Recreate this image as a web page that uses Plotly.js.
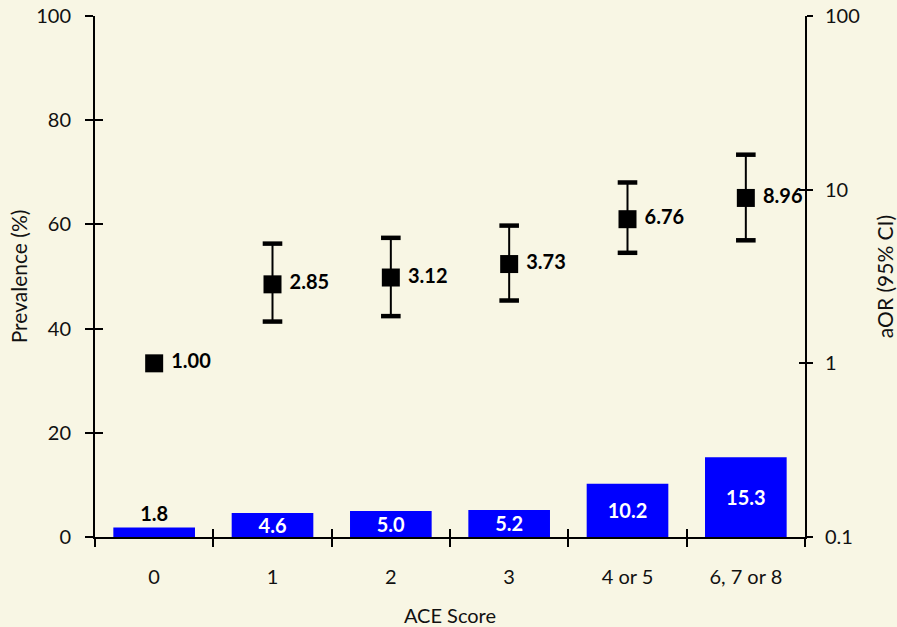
<!DOCTYPE html>
<html><head><meta charset="utf-8">
<script src="https://cdn.plot.ly/plotly-3.0.1.min.js"></script>
<style>html,body{margin:0;padding:0;background:#F8F6E4}#chart{width:897px;height:627px}</style>
</head><body><div id="chart"></div>
<script>
const categories = ['0', '1', '2', '3', '4 or 5', '6, 7 or 8'];
const prevalence = [1.8, 4.6, 5.0, 5.2, 10.2, 15.3];
const prevalenceLabels = ['1.8', '4.6', '5.0', '5.2', '10.2', '15.3'];
const aor = [1.00, 2.85, 3.12, 3.73, 6.76, 8.96];
const aorLabels = ['1.00', '2.85', '3.12', '3.73', '6.76', '8.96'];
const ciLower = [null, 1.74, 1.87, 2.30, 4.33, 5.11];
const ciUpper = [null, 4.89, 5.28, 6.21, 11.0, 15.9];
const leftTicks = [0, 20, 40, 60, 80, 100];
const rightTicks = [0.1, 1, 10, 100];
const rightTickText = ['0.1', '1', '10', '100'];

const FONT = 'Lato, "Open Sans", "DejaVu Sans", sans-serif';
const BG = '#F8F6E4';
const FS = 20;

const errPlus = aor.map((v, i) => ciUpper[i] == null ? 0 : ciUpper[i] - v);
const errMinus = aor.map((v, i) => ciLower[i] == null ? 0 : v - ciLower[i]);
const capX = [], capY = [];
categories.forEach((c, i) => {
  if (ciLower[i] != null) { capX.push(c); capY.push(ciLower[i]); }
  if (ciUpper[i] != null) { capX.push(c); capY.push(ciUpper[i]); }
});

const traces = [
  {
    type: 'bar', x: categories, y: prevalence, xaxis: 'x', yaxis: 'y',
    marker: {color: '#0000FF', line: {width: 0}},
    text: prevalenceLabels,
    textposition: prevalence.map(v => v < 3 ? 'outside' : 'inside'),
    insidetextanchor: 'middle',
    constraintext: 'none',
    cliponaxis: false,
    insidetextfont: {family: FONT, size: FS, color: '#FFFFFF', weight: 'bold'},
    outsidetextfont: {family: FONT, size: FS, color: '#000000', weight: 'bold'},
    hoverinfo: 'skip'
  },
  {
    type: 'scatter', mode: 'markers', x: capX, y: capY, xaxis: 'x', yaxis: 'y2',
    marker: {symbol: 'line-ew', size: 14, color: '#000', line: {width: 4.5, color: '#000'}},
    hoverinfo: 'skip', cliponaxis: false
  },
  {
    type: 'scatter', mode: 'markers+text', x: categories, y: aor, xaxis: 'x', yaxis: 'y2',
    text: aorLabels.map(t => ' ' + t), textposition: 'middle right',
    textfont: {family: FONT, size: FS, color: '#000', weight: 'bold'},
    marker: {symbol: 'square', size: 18, color: '#000'},
    error_y: {type: 'data', symmetric: false, array: errPlus, arrayminus: errMinus,
              thickness: 2, width: 0, color: '#000'},
    cliponaxis: false, hoverinfo: 'skip'
  },
  {type: 'scatter', mode: 'markers', x: categories, y: categories.map(() => null), xaxis: 'x2', yaxis: 'y3', hoverinfo: 'skip', showlegend: false},
  {type: 'scatter', mode: 'markers', x: categories, y: categories.map(() => null), xaxis: 'x', yaxis: 'y4', hoverinfo: 'skip', showlegend: false}
];

const tf = {family: FONT, size: FS, color: '#111'};
const titleFont = {family: FONT, size: 21, color: '#111'};

const layout = {
  width: 897, height: 627,
  paper_bgcolor: BG, plot_bgcolor: BG,
  margin: {l: 95, r: 92, t: 16, b: 90},
  showlegend: false,
  font: tf,
  bargap: 0.31,
  xaxis: {
    type: 'category', categoryarray: categories, range: [-0.5, 5.5],
    tickson: 'boundaries', ticks: 'outside', ticklen: 8, tickwidth: 2, tickcolor: '#000',
    showline: true, linecolor: '#000', linewidth: 2, showgrid: false, zeroline: false,
    ticklabelstandoff: 21, tickfont: tf,
    title: {text: 'ACE Score', font: tf, standoff: 22}
  },
  xaxis2: {
    type: 'category', categoryarray: categories, range: [-0.5, 5.5], overlaying: 'x', side: 'bottom',
    tickson: 'boundaries', ticks: 'inside', ticklen: 8, tickwidth: 2, tickcolor: '#000',
    showticklabels: false, showline: false, showgrid: false, zeroline: false
  },
  yaxis: {
    range: [0, 100], tickvals: leftTicks, ticks: 'outside', ticklen: 8, tickwidth: 2, tickcolor: '#000',
    showline: true, linecolor: '#000', linewidth: 2, showgrid: false, zeroline: false,
    ticklabelstandoff: 10, tickfont: tf,
    title: {text: 'Prevalence (%)', font: titleFont, standoff: 3}
  },
  yaxis3: {
    range: [0, 100], tickvals: leftTicks, overlaying: 'y', side: 'left', ticks: 'inside', ticklen: 8, tickwidth: 2, tickcolor: '#000',
    showticklabels: false, showline: false, showgrid: false, zeroline: false
  },
  yaxis2: {
    type: 'log', range: [-1, 2], overlaying: 'y', side: 'right',
    tickvals: rightTicks, ticktext: rightTickText, ticks: 'outside', ticklen: 6, tickwidth: 2, tickcolor: '#000',
    showline: true, linecolor: '#000', linewidth: 2, showgrid: false, zeroline: false,
    ticklabelstandoff: 8, tickfont: tf,
    title: {text: 'aOR (95% CI)', font: titleFont, standoff: 20}
  },
  yaxis4: {
    type: 'log', range: [-1, 2], overlaying: 'y', side: 'right',
    tickvals: rightTicks, ticks: 'inside', ticklen: 6, tickwidth: 2, tickcolor: '#000',
    showticklabels: false, showline: false, showgrid: false, zeroline: false
  }
};

Plotly.newPlot('chart', traces, layout, {displayModeBar: false, staticPlot: true});
</script>
</body></html>
